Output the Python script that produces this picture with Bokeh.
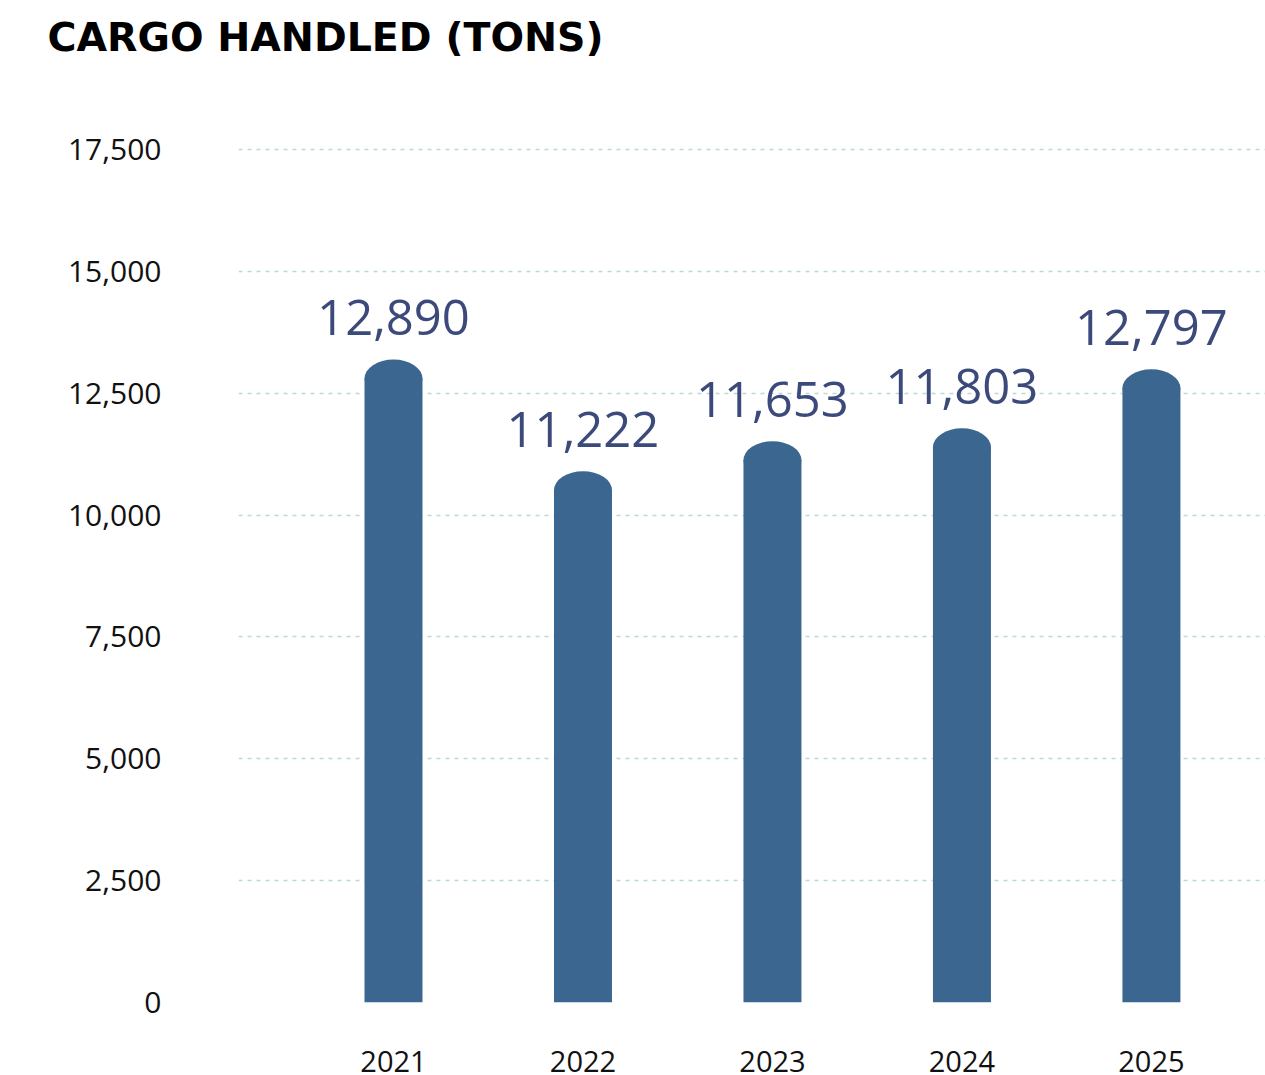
from bokeh.plotting import figure
from bokeh.models import Range1d, FixedTicker, NumeralTickFormatter, ColumnDataSource
from bokeh.core.properties import value
from bokeh.embed import file_html
from bokeh.resources import INLINE

# ---- data ----
title_text = "CARGO HANDLED (TONS)"
years = ["2021", "2022", "2023", "2024", "2025"]
tons = [12890, 11222, 11653, 11803, 12797]          # stated values (labels)
bar_heights = [12800, 10510, 11125, 11390, 12600]   # bar heights as drawn in the picture
y_ticks = [0, 2500, 5000, 7500, 10000, 12500, 15000, 17500]

FONT = "Open Sans"
BAR = "#3a6690"
LABEL = "#3b4a7a"

xs = list(range(1, len(years) + 1))
src = ColumnDataSource(dict(
    x=xs,
    h=bar_heights,
    lab=[f"{v:,}" for v in tons],
))

p = figure(width=1265, height=1075, output_backend="svg", toolbar_location=None,
           x_range=Range1d(0.182, 5.602), y_range=Range1d(0, 19039),
           min_border_left=238, min_border_right=0, min_border_top=0, min_border_bottom=73)

p.outline_line_color = None
p.background_fill_color = "white"
p.border_fill_color = "white"

# title
p.title.text = title_text
p.title.text_font = "DejaVu Sans"
p.title.text_font_size = "39.5px"
p.title.text_font_style = "bold"
p.title.text_color = "#000000"
p.title.align = "left"
p.title.vertical_align = "top"
p.title.text_line_height = 1.0
p.title.offset = -191
p.title.standoff = 26

# bars
p.vbar(x="x", top="h", bottom=0, width=0.306, source=src, fill_color=BAR, line_color=None)
p.ellipse(x="x", y="h", width=0.306, height=38, height_units="screen", source=src,
          fill_color=BAR, line_color=None)

# labels
p.text(x="x", y="h", text="lab", source=src, y_offset=-61,
       text_align="center", text_baseline="alphabetic",
       text_font=value(FONT), text_font_size="49px", text_color=LABEL)

# axes
p.yaxis.ticker = FixedTicker(ticks=y_ticks)
p.yaxis.formatter = NumeralTickFormatter(format="0,0")
p.xaxis.ticker = FixedTicker(ticks=xs)
p.xaxis.major_label_overrides = {x: y for x, y in zip(xs, years)}
for ax in (p.xaxis[0], p.yaxis[0]):
    ax.axis_line_color = None
    ax.major_tick_line_color = None
    ax.minor_tick_line_color = None
    ax.major_label_text_font = FONT
    ax.major_label_text_color = "#111111"
p.yaxis.major_label_text_font_size = "30px"
p.xaxis.major_label_text_font_size = "29px"
p.yaxis.major_label_standoff = 71
p.xaxis.major_label_standoff = 42

p.xgrid.grid_line_color = None
p.ygrid.grid_line_color = "#b9dbd5"
p.ygrid.grid_line_dash = "4 5"
p.ygrid.grid_line_width = 1.5

open("out.html", "w").write(file_html(p, INLINE))
